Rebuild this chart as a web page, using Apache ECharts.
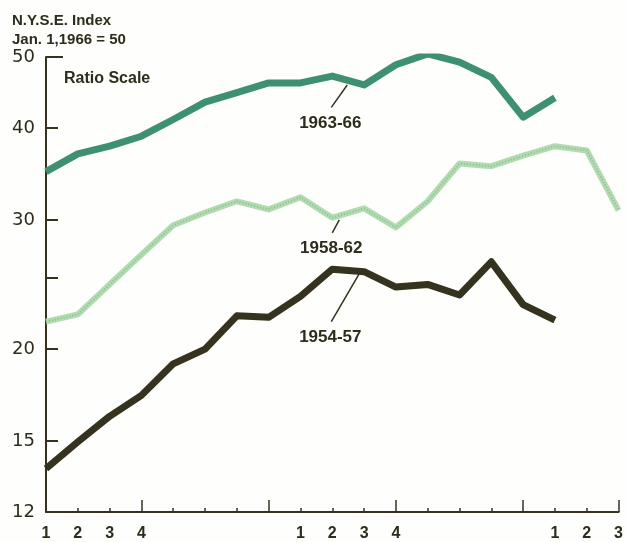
<!DOCTYPE html>
<html>
<head>
<meta charset="utf-8">
<script src="https://cdn.jsdelivr.net/npm/echarts@6/dist/echarts.min.js"></script>
<style>
html,body{margin:0;padding:0;background:#fefefc;}
#chart{width:626px;height:542px;}
</style>
</head>
<body>
<div id="chart"></div>
<script>
// Quarter tick labels (19 quarter positions)
const quarterLabels = ['1','2','3','4','','','','','1','2','3','4','','','','','1','2','3'];
// Year-boundary (tall) tick positions
const yearTicks = [3, 7, 11, 15, 18];
// Y axis (ratio scale) ticks and labels
const yTickValues = [15, 20, 25, 30, 40];
const yLabelValues = [12, 15, 20, 30, 40, 50];

// N.Y.S.E. Index (Jan. 1, 1966 = 50), quarterly
const s1963_66 = [34.9, 36.9, 37.8, 39.0, 41.1, 43.4, 44.7, 46.1, 46.1, 47.1, 45.8, 48.8, 50.5, 49.2, 46.9, 41.4, 44.0];
const s1958_62 = [21.8, 22.3, 24.5, 26.9, 29.5, 30.7, 31.8, 31.0, 32.2, 30.2, 31.1, 29.3, 31.8, 35.8, 35.5, 36.7, 37.8, 37.3, 30.9];
const s1954_57 = [13.75, 14.95, 16.2, 17.3, 19.1, 20.0, 22.2, 22.1, 23.6, 25.7, 25.5, 24.3, 24.5, 23.7, 26.3, 23.0, 21.9];

const seriesNames = ['1963-66', '1958-62', '1954-57'];

const AX = '#36321e';
const TXT = '#2e2c1c';
const FONT = "'Liberation Sans', Arial, sans-serif";

const toPairs = arr => arr.map((v, i) => [i, v]);

const chart = echarts.init(document.getElementById('chart'), null, {renderer: 'canvas'});

const option = {
  backgroundColor: '#fefefc',
  animation: false,
  grid: {left: 46, right: 5, top: 57, bottom: 24, containLabel: false},
  xAxis: [
    {
      type: 'value', min: 0, max: 18, interval: 1,
      axisLine: {show: true, lineStyle: {color: AX, width: 2}},
      axisTick: {show: true, inside: true, length: 4, lineStyle: {color: AX, width: 1.5}},
      axisLabel: {
        show: true, margin: 14, color: TXT, fontFamily: FONT, fontWeight: 'bold', fontSize: 16,
        formatter: v => quarterLabels[v] !== undefined ? quarterLabels[v] : ''
      },
      splitLine: {show: false}
    },
    {
      type: 'value', min: 0, max: 18, position: 'bottom',
      axisLine: {show: false},
      axisTick: {show: true, inside: true, length: 12, customValues: yearTicks, lineStyle: {color: AX, width: 1.5}},
      axisLabel: {show: false},
      splitLine: {show: false}
    }
  ],
  yAxis: [
    {
      type: 'log', logBase: 10, min: 12, max: 50,
      axisLine: {show: true, lineStyle: {color: AX, width: 2}},
      axisTick: {show: true, inside: true, length: 12, customValues: yTickValues, lineStyle: {color: AX, width: 2}},
      axisLabel: {
        show: true, margin: 11, color: TXT, fontFamily: "'DejaVu Sans', sans-serif", fontSize: 18,
        customValues: yLabelValues, formatter: v => String(Math.round(v))
      },
      splitLine: {show: false}
    },
    {
      type: 'log', logBase: 10, min: 12, max: 50, position: 'left',
      axisLine: {show: false},
      axisTick: {show: true, inside: true, length: 17, customValues: [50], lineStyle: {color: AX, width: 2}},
      axisLabel: {show: false},
      splitLine: {show: false}
    }
  ],
  series: [
    {
      name: seriesNames[1], type: 'line', data: toPairs(s1958_62), symbol: 'none',
      lineStyle: {color: '#b3dbb2', width: 6, join: 'round'}
    },
    {
      name: seriesNames[1] + ' texture', type: 'line', data: toPairs(s1958_62), symbol: 'none', silent: true,
      lineStyle: {color: '#86c08a', width: 2, type: [1, 2], join: 'round'}
    },
    {
      name: seriesNames[0], type: 'line', data: toPairs(s1963_66), symbol: 'none',
      lineStyle: {color: '#3e9170', width: 7, join: 'round'}
    },
    {
      name: seriesNames[2], type: 'line', data: toPairs(s1954_57), symbol: 'none',
      lineStyle: {color: '#35321d', width: 7, join: 'round'}
    }
  ]
};
chart.setOption(option);

// Annotations: leader lines anchored in data space
const notes = [
  {text: seriesNames[0], from: [9.47, 45.8], to: [8.97, 42.7]},
  {text: seriesNames[1], from: [9.22, 30.0], to: [9.0, 28.8]},
  {text: seriesNames[2], from: [9.84, 25.3], to: [8.97, 21.8]}
];
const gfx = [
  {type: 'text', left: 12, top: 13, style: {text: 'N.Y.S.E. Index', fill: TXT, font: "bold 15px " + FONT}},
  {type: 'text', left: 12, top: 32, style: {text: 'Jan. 1,1966 = 50', fill: TXT, font: "bold 15px " + FONT}},
  {type: 'text', left: 64, top: 71, style: {text: 'Ratio Scale', fill: TXT, font: "bold 16px " + FONT}}
];
notes.forEach(n => {
  const p1 = chart.convertToPixel({xAxisIndex: 0, yAxisIndex: 0}, n.from);
  const p2 = chart.convertToPixel({xAxisIndex: 0, yAxisIndex: 0}, n.to);
  gfx.push({type: 'line', shape: {x1: p1[0], y1: p1[1], x2: p2[0], y2: p2[1]}, style: {stroke: AX, lineWidth: 1.5}, z: 10});
  gfx.push({type: 'text', x: p2[0] - 1, y: p2[1] + 7, style: {text: n.text, fill: TXT, font: "bold 17px " + FONT, align: 'center', verticalAlign: 'top'}, z: 10});
});
chart.setOption({graphic: gfx});
</script>
</body>
</html>
